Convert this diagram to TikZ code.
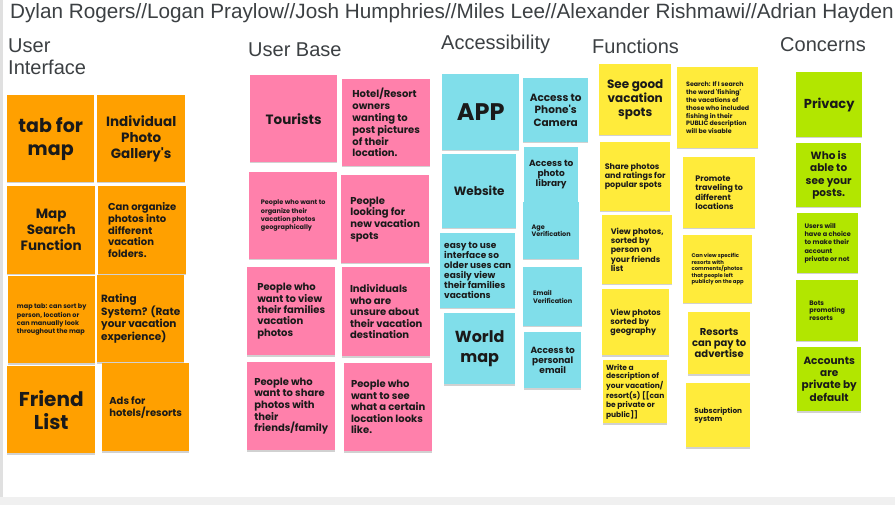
\documentclass[tikz,border=0pt]{standalone}
\usepackage{fontspec}
\usetikzlibrary{shadows}
\newfontfamily\headfont{Liberation Sans}
\newfontfamily\notefont{Poppins}
\definecolor{uiorange}{HTML}{FFA000}
\definecolor{basepink}{HTML}{FF80AB}
\definecolor{acccyan}{HTML}{80DEEA}
\definecolor{funyellow}{HTML}{FFEB3B}
\definecolor{congreen}{HTML}{B2E600}
\definecolor{headgray}{HTML}{3C4043}
\definecolor{notetext}{HTML}{1A1A1A}
\tikzset{
  sticky/.style={inner sep=0pt, text=notetext, anchor=north west,
    drop shadow={shadow xshift=0pt, shadow yshift=-1.3pt, fill=black, opacity=.18}},
  ui/.style={sticky, fill=uiorange},
  base/.style={sticky, fill=basepink},
  acc/.style={sticky, fill=acccyan},
  fun/.style={sticky, fill=funyellow},
  con/.style={sticky, fill=congreen},
  wh/.style 2 args={minimum width=#1pt, minimum height=#2pt},
  fs/.style 2 args={font=\notefont\bfseries\fontsize{#1}{#2}\selectfont},
  heading/.style={font=\headfont\fontsize{20}{22}\selectfont, text=headgray, anchor=base west, inner sep=0pt, align=left}
}
\begin{document}
\begin{tikzpicture}[x=1pt,y=-1pt]
\useasboundingbox (0,0) rectangle (895,505);
\fill[white] (0,0) rectangle (895,505);
\fill[black!12] (0,0) rectangle (2.5,497);
\fill[black!6] (0,497) rectangle (895,505);
\node[heading, font=\headfont\fontsize{20.7}{22}\selectfont] (title) at (10,19) {Dylan Rogers//Logan Praylow//Josh Humphries//Miles Lee//Alexander Rishmawi//Adrian Hayden};
\node[heading] (uihead) at (8,75) {User\\Interface};
\node[heading] (basehead) at (248,57) {User Base};
\node[heading] (acchead) at (441,50) {Accessibility};
\node[heading] (funhead) at (592,54) {Functions};
\node[heading] (conhead) at (780,52) {Concerns};
% user interface
\node[ui, wh={87}{87}, fs={19}{23}, align=center] (tabmap) at (7,95) {tab for\\map};
\node[ui, wh={88}{87}, fs={13.5}{16}, align=center] (gallery) at (97,95) {Individual\\Photo\\Gallery's};
\node[ui, wh={88}{88}, fs={13.5}{16}, align=center] (mapsearch) at (7,186) {Map\\Search\\Function};
\node[ui, wh={88}{88}, fs={10}{11.7}, align=left] (organize) at (98,186) {Can organize\\photos into\\different\\vacation\\folders.};
\node[ui, wh={87}{87}, fs={6.5}{8.3}, align=left] (maptab) at (8,276) {map tab: can sort by\\person, location or\\can manually look\\throughout the map};
\node[ui, wh={87}{87}, fs={10.5}{12}, align=left] (rating) at (97,275) {Rating\\System? (Rate\\your vacation\\experience)};
\node[ui, wh={88}{87}, fs={20}{23}, align=center] (friends) at (7,366) {Friend\\List};
\node[ui, wh={87}{88}, fs={10}{12}, align=left] (ads) at (102,363) {Ads for\\hotels/resorts};
% user base
\node[base, wh={87}{87}, fs={13.5}{16}, align=center] (tourists) at (250,75) {Tourists};
\node[base, wh={88}{87}, fs={10}{11.8}, align=left] (owners) at (342,79) {Hotel/Resort\\owners\\wanting to\\post pictures\\of their\\location.};
\node[base, wh={88}{87}, fs={6.5}{8.3}, align=left] (organizers) at (249,172) {People who want to\\organize their\\vacation photos\\geographically};
\node[base, wh={88}{88}, fs={10}{11.7}, align=left] (lookers) at (341,175) {People\\looking for\\new vacation\\spots};
\node[base, wh={88}{88}, fs={10}{11.4}, align=left] (families) at (247,267) {People who\\want to view\\their families\\vacation\\photos};
\node[base, wh={88}{89}, fs={10}{11.6}, align=left] (unsure) at (342,267) {Individuals\\who are\\unsure about\\their vacation\\destination};
\node[base, wh={88}{88}, fs={10}{11.7}, align=left] (sharers) at (247,362) {People who\\want to share\\photos with\\their\\friends/family};
\node[base, wh={88}{88}, fs={10}{11.5}, align=left] (curious) at (344,363) {People who\\want to see\\what a certain\\location looks\\like.};
% accessibility
\node[acc, wh={77}{76}, fs={24}{28}, align=center] (app) at (442,74) {APP};
\node[acc, wh={65}{64}, fs={10.5}{12.2}, align=center] (camera) at (523,78) {Access to\\Phone's\\Camera};
\node[acc, wh={74}{74}, fs={12}{14}, align=center] (website) at (442,154) {Website};
\node[acc, wh={54}{55}, fs={9}{10}, align=center] (library) at (524,147) {Access to\\photo\\library};
\node[acc, wh={56}{57}, fs={6.5}{7.7}, align=left] (age) at (523,202) {Age\\Verification};
\node[acc, wh={75}{75}, fs={9}{10}, align=left] (easy) at (440,233) {easy to use\\interface so\\older uses can\\easily view\\their families\\vacations};
\node[acc, wh={59}{59}, fs={6.5}{8}, align=left] (email) at (523,267) {Email\\Verification};
\node[acc, wh={71}{71}, fs={16}{19.3}, align=center] (worldmap) at (444,313) {World\\map};
\node[acc, wh={57}{56}, fs={9}{10.3}, align=center] (personal) at (524,332) {Access to\\personal\\email};
% functions
\node[fun, wh={72}{71}, fs={12}{13.7}, align=center] (goodspots) at (599,64) {See good\\vacation\\spots};
\node[fun, wh={81}{81}, fs={6.3}{7.9}, align=left] (search) at (677,67) {Search: If I search\\the word 'fishing'\\the vacations of\\those who included\\fishing in their\\PUBLIC description\\will be visable};
\node[fun, wh={70}{69}, fs={8}{9.3}, align=left] (ratings) at (600,142) {Share photos\\and ratings for\\popular spots};
\node[fun, wh={72}{71}, fs={8}{9.3}, align=left] (promote) at (683,157) {Promote\\traveling to\\different\\locations};
\node[fun, wh={70}{69}, fs={8}{9.3}, align=left] (byperson) at (602,215) {View photos,\\sorted by\\person on\\your friends\\list};
\node[fun, wh={69}{68}, fs={5.3}{6.6}, align=left] (resortview) at (683,235) {Can view specific\\resorts with\\comments/photos\\that people left\\publicly on the app};
\node[fun, wh={67}{66}, fs={8}{9.2}, align=left] (bygeo) at (602,289) {View photos\\sorted by\\geography};
\node[fun, wh={62}{62}, fs={10}{11.3}, align=center] (pay) at (688,312) {Resorts\\can pay to\\advertise};
\node[fun, wh={64}{63}, fs={7.5}{8.5}, align=left] (describe) at (603,360) {Write a\\description of\\your vacation/\\resort(s) [[can\\be private or\\public]]};
\node[fun, wh={64}{64}, fs={7.3}{8.3}, align=left] (subscription) at (686,383) {Subscription\\system};
% concerns
\node[con, wh={66}{65}, fs={13}{15}, align=center] (privacy) at (796,72) {Privacy};
\node[con, wh={65}{64}, fs={10.5}{12.4}, align=center] (whocan) at (796,143) {Who is\\able to\\see your\\posts.};
\node[con, wh={61}{60}, fs={6.5}{8.1}, align=left] (choice) at (797,213) {Users will\\have a choice\\to make their\\account\\private or not};
\node[con, wh={62}{61}, fs={6.5}{7.8}, align=left] (bots) at (796,280) {Bots\\promoting\\resorts};
\node[con, wh={64}{64}, fs={10.5}{12.3}, align=center] (bydefault) at (797,347) {Accounts\\are\\private by\\default};
\end{tikzpicture}
\end{document}
